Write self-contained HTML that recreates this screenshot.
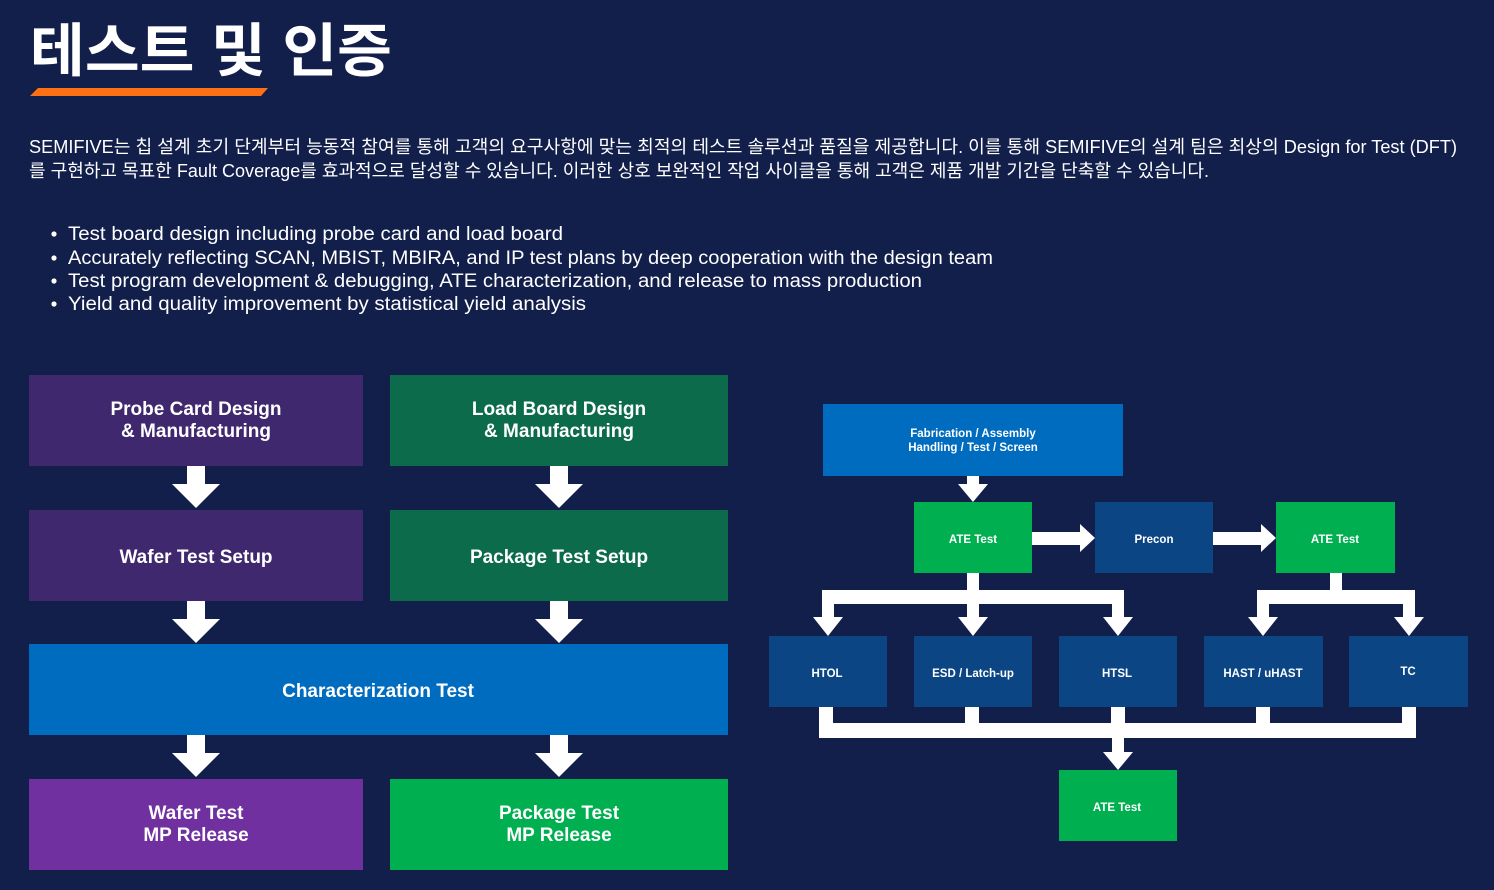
<!DOCTYPE html>
<html><head><meta charset="utf-8"><style>
html,body{margin:0;padding:0;background:#121f4a;width:1494px;height:890px;overflow:hidden}
svg{display:block}
text{font-family:"Liberation Sans","Noto Sans CJK KR",sans-serif;fill:#fff}
</style></head><body>
<svg width="1494" height="890" viewBox="0 0 1494 890" xmlns="http://www.w3.org/2000/svg">
<rect width="1494" height="890" fill="#121f4a"/>
<text x="30" y="71" font-size="58" font-weight="bold" textLength="362" lengthAdjust="spacingAndGlyphs">테스트 및 인증</text>
<polygon points="38,88 268,88 261,96 30,96" fill="#ff6f13"/>
<text x="29" y="153" font-size="18" textLength="1428" lengthAdjust="spacingAndGlyphs">SEMIFIVE는 칩 설계 초기 단계부터 능동적 참여를 통해 고객의 요구사항에 맞는 최적의 테스트 솔루션과 품질을 제공합니다. 이를 통해 SEMIFIVE의 설계 팀은 최상의 Design for Test (DFT)</text>
<text x="29" y="177" font-size="18" textLength="1180" lengthAdjust="spacingAndGlyphs">를 구현하고 목표한 Fault Coverage를 효과적으로 달성할 수 있습니다. 이러한 상호 보완적인 작업 사이클을 통해 고객은 제품 개발 기간을 단축할 수 있습니다.</text>
<g font-size="19">
<circle cx="54" cy="234" r="2.6" fill="#fff"/><text x="68" y="240" textLength="495" lengthAdjust="spacingAndGlyphs">Test board design including probe card and load board</text>
<circle cx="54" cy="258" r="2.6" fill="#fff"/><text x="68" y="264" textLength="925" lengthAdjust="spacingAndGlyphs">Accurately reflecting SCAN, MBIST, MBIRA, and IP test plans by deep cooperation with the design team</text>
<circle cx="54" cy="281" r="2.6" fill="#fff"/><text x="68" y="287" textLength="854" lengthAdjust="spacingAndGlyphs">Test program development &amp; debugging, ATE characterization, and release to mass production</text>
<circle cx="54" cy="304" r="2.6" fill="#fff"/><text x="68" y="310" textLength="518" lengthAdjust="spacingAndGlyphs">Yield and quality improvement by statistical yield analysis</text>
</g>
<!-- left diagram -->
<g font-size="19" font-weight="bold" text-anchor="middle">
<rect x="29" y="375" width="334" height="91" fill="#40286f"/>
<text x="196" y="415">Probe Card Design</text><text x="196" y="437">&amp; Manufacturing</text>
<rect x="390" y="375" width="338" height="91" fill="#0c6b4a"/>
<text x="559" y="415">Load Board Design</text><text x="559" y="437">&amp; Manufacturing</text>
<rect x="29" y="510" width="334" height="91" fill="#40286f"/>
<text x="196" y="563">Wafer Test Setup</text>
<rect x="390" y="510" width="338" height="91" fill="#0c6b4a"/>
<text x="559" y="563">Package Test Setup</text>
<rect x="29" y="644" width="699" height="91" fill="#006cbf"/>
<text x="378" y="697">Characterization Test</text>
<rect x="29" y="779" width="334" height="91" fill="#7030a0"/>
<text x="196" y="819">Wafer Test</text><text x="196" y="841">MP Release</text>
<rect x="390" y="779" width="338" height="91" fill="#00b050"/>
<text x="559" y="819">Package Test</text><text x="559" y="841">MP Release</text>
</g>
<g fill="#fff">
<polygon points="187,466 205,466 205,484 220,484 196,508 172,484 187,484"/>
<polygon points="550,466 568,466 568,484 583,484 559,508 535,484 550,484"/>
<polygon points="187,601 205,601 205,619 220,619 196,643 172,619 187,619"/>
<polygon points="550,601 568,601 568,619 583,619 559,643 535,619 550,619"/>
<polygon points="187,735 205,735 205,753 220,753 196,777 172,753 187,753"/>
<polygon points="550,735 568,735 568,753 583,753 559,777 535,753 550,753"/>
</g>
<!-- right diagram -->
<g font-size="11.5" font-weight="bold" text-anchor="middle">
<rect x="823" y="404" width="300" height="72" fill="#006cbf"/>
<text x="973" y="437">Fabrication / Assembly</text><text x="973" y="451">Handling / Test / Screen</text>
<rect x="914" y="502" width="118" height="71" fill="#00b050"/><text x="973" y="543">ATE Test</text>
<rect x="1095" y="502" width="118" height="71" fill="#0b4584"/><text x="1154" y="543">Precon</text>
<rect x="1276" y="502" width="119" height="71" fill="#00b050"/><text x="1335" y="543">ATE Test</text>
<rect x="769" y="636" width="118" height="71" fill="#0b4584"/><text x="827" y="677">HTOL</text>
<rect x="914" y="636" width="118" height="71" fill="#0b4584"/><text x="973" y="677">ESD / Latch-up</text>
<rect x="1059" y="636" width="118" height="71" fill="#0b4584"/><text x="1117" y="677">HTSL</text>
<rect x="1204" y="636" width="119" height="71" fill="#0b4584"/><text x="1263" y="677">HAST / uHAST</text>
<rect x="1349" y="636" width="119" height="71" fill="#0b4584"/><text x="1408" y="675">TC</text>
<rect x="1059" y="770" width="118" height="71" fill="#00b050"/><text x="1117" y="811">ATE Test</text>
</g>
<g fill="#fff">
<polygon points="967,476 979,476 979,484 988,484 973,502 958,484 967,484"/>
<polygon points="1032,532 1080,532 1080,524 1095,538 1080,552 1080,545 1032,545"/>
<polygon points="1213,532 1261,532 1261,524 1276,538 1261,552 1261,545 1213,545"/>
<rect x="967" y="573" width="12" height="31"/>
<rect x="822" y="590" width="302" height="14"/>
<rect x="822" y="590" width="12" height="28"/><polygon points="813,617 843,617 828,636"/>
<rect x="967" y="590" width="12" height="28"/><polygon points="958,617 988,617 973,636"/>
<rect x="1112" y="590" width="12" height="28"/><polygon points="1103,617 1133,617 1118,636"/>
<rect x="1330" y="573" width="12" height="31"/>
<rect x="1257" y="590" width="158" height="14"/>
<rect x="1257" y="590" width="12" height="28"/><polygon points="1248,617 1278,617 1263,636"/>
<rect x="1403" y="590" width="12" height="28"/><polygon points="1394,617 1424,617 1409,636"/>
<rect x="819" y="707" width="14" height="31"/>
<rect x="965" y="707" width="14" height="31"/>
<rect x="1111" y="707" width="14" height="31"/>
<rect x="1256" y="707" width="14" height="31"/>
<rect x="1402" y="707" width="14" height="31"/>
<rect x="819" y="723" width="597" height="15"/>
<rect x="1112" y="738" width="12" height="15"/><polygon points="1103,752 1133,752 1118,770"/>
</g>
</svg>
</body></html>
